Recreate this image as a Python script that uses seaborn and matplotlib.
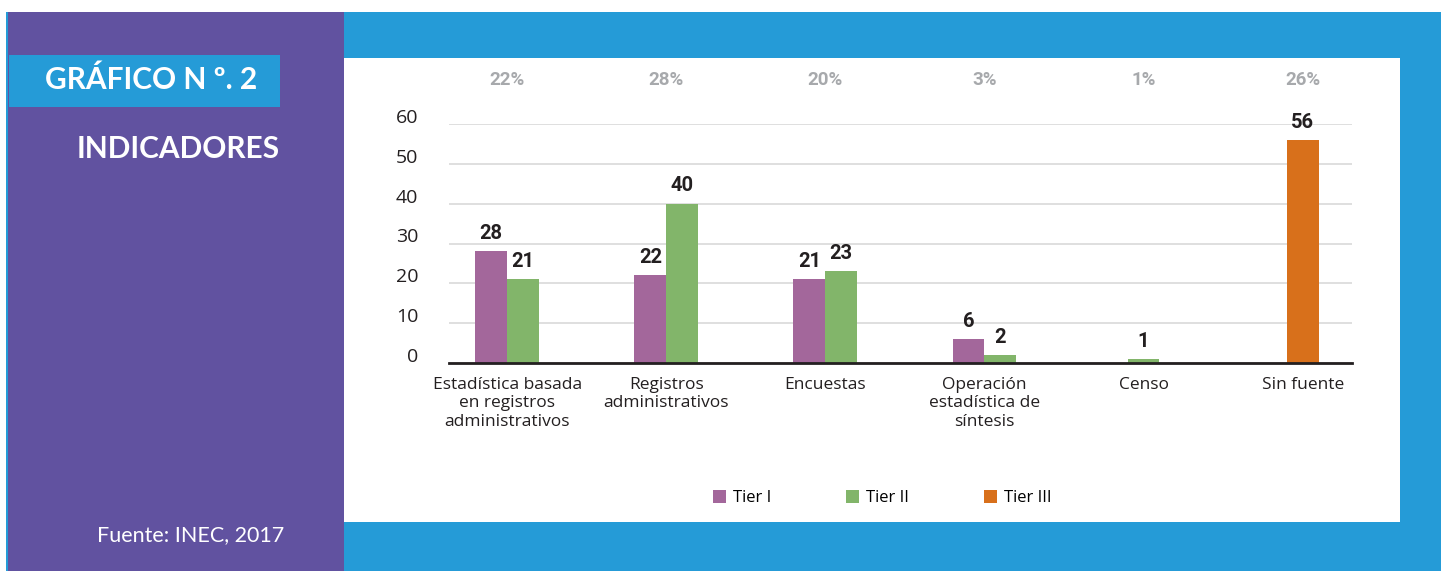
import pandas as pd
import matplotlib
matplotlib.use("Agg")
import matplotlib.pyplot as plt
import matplotlib.transforms as mtrans
from matplotlib.patches import Rectangle, Patch
import seaborn as sns

# Data
categories = ["Estadística basada\nen registros\nadministrativos",
              "Registros\nadministrativos",
              "Encuestas",
              "Operación\nestadística de\nsíntesis",
              "Censo",
              "Sin fuente"]
tiers = ["Tier I", "Tier II", "Tier III"]
tier1 = [28, 22, 21, 6, None, None]
tier2 = [21, 40, 23, 2, 1, None]
tier3 = [None, None, None, None, None, 56]
shares = ["22%", "28%", "20%", "3%", "1%", "26%"]
colors = {"Tier I": "#A3679B", "Tier II": "#82B56A", "Tier III": "#D8701B"}

# long table, split in groups shown as pairs and groups with one bar
rows = []
for i, cat in enumerate(categories):
    for tier, vals in zip(tiers, [tier1, tier2, tier3]):
        if vals[i] is not None:
            rows.append({"cat": cat, "tier": tier, "value": vals[i]})
df = pd.DataFrame(rows)
counts = df.groupby("cat")["tier"].transform("count")
df_pair = df[counts == 2]
df_single = df[counts == 1]

W, H = 1441, 571
fig = plt.figure(figsize=(W / 100, H / 100), dpi=100)
fig.patch.set_facecolor("white")

def box(x0, y0, x1, y1, color):
    fig.add_artist(Rectangle((x0 / W, 1 - y1 / H), (x1 - x0) / W, (y1 - y0) / H,
                             transform=fig.transFigure, color=color, lw=0, zorder=-5))

blue = "#259BD7"
purple = "#6152A0"
box(6, 12, W, H, blue)
box(344, 58, 1400, 522, "white")
box(8, 12, 344, H, purple)
box(9, 55, 280, 107, blue)

fig.text(151 / W, 1 - 80 / H, "GRÁFICO N º. 2", color="white", fontsize=21.5,
         fontweight="bold", family="Lato", ha="center", va="center")
fig.text(178 / W, 1 - 149 / H, "INDICADORES", color="white", fontsize=21.5,
         fontweight="bold", family="Lato", ha="center", va="center")
fig.text(191 / W, 1 - 535 / H, "Fuente: INEC, 2017", color="white", fontsize=15.5,
         family="Lato", ha="center", va="center")

ax = fig.add_axes([449 / W, 1 - 363 / H, (1352 - 449) / W, (363 - 124) / H])
ax.set_facecolor("none")

sns.barplot(data=df_pair, x="cat", y="value", hue="tier", order=categories,
            hue_order=["Tier I", "Tier II"], palette=colors, width=0.4,
            saturation=1, legend=False, ax=ax, zorder=3)
sns.barplot(data=df_single, x="cat", y="value", hue="tier", order=categories,
            hue_order=["Tier II", "Tier III"], palette=colors, width=0.2,
            dodge=False, saturation=1, legend=False, ax=ax, zorder=3)

bold_font = dict(family="Roboto", fontweight="bold", fontstretch="condensed")
for c in ax.containers:
    ax.bar_label(c, fmt="%g", padding=6, fontsize=14.5, color="#231F20", **bold_font)

for i, s in enumerate(shares):
    ax.text(i, 1.185, s, transform=ax.get_xaxis_transform(), ha="center", va="center",
            fontsize=13.5, color="#A7A9AC", clip_on=False, **bold_font)

ax.set_ylim(0, 60)
ax.set_xlim(-0.365, 5.31)
ax.set_yticks(range(0, 61, 10))
ax.grid(axis="y", color="#D9D9D9", lw=1.2, zorder=0)
ax.set_axisbelow(True)
for side in ["top", "right", "left"]:
    ax.spines[side].set_visible(False)
ax.spines["bottom"].set_color("#231F20")
ax.spines["bottom"].set_linewidth(2)
ax.spines["bottom"].set_zorder(4)
ax.tick_params(axis="y", length=0, pad=22, labelsize=14, labelcolor="#231F20")
ax.tick_params(axis="x", length=0, pad=10, labelsize=12.5, labelcolor="#231F20")
for lab in ax.get_xticklabels() + ax.get_yticklabels():
    lab.set_family("Open Sans")
# y labels sit a little above their gridlines in the original
shift = mtrans.ScaledTranslation(0, 8 / 100, fig.dpi_scale_trans)
for lab in ax.get_yticklabels():
    lab.set_transform(lab.get_transform() + shift)
ax.set_xlabel("")
ax.set_ylabel("")

handles = [Patch(facecolor=colors[t], edgecolor="none") for t in tiers]
fig.legend(handles, tiers, loc="center", bbox_to_anchor=(882 / W, 1 - 498 / H),
           ncol=3, frameon=False, handlelength=0.8, handleheight=0.8,
           handletextpad=0.4, columnspacing=4.5, prop={"family": "Open Sans", "size": 12})

fig.savefig("out.png", dpi=100)
